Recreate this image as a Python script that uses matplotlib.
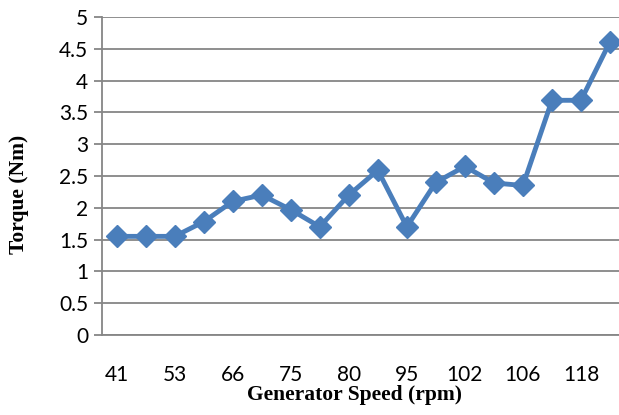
import matplotlib.pyplot as plt

# generator speed (rpm), only every other label is shown on the axis
speed_labels = ["41", "47", "53", "60", "66", "70", "75", "78", "80", "88",
                "95", "98", "102", "104", "106", "112", "118", "122"]
torque = [1.55, 1.55, 1.55, 1.78, 2.10, 2.20, 1.97, 1.70, 2.20, 2.59,
          1.70, 2.40, 2.65, 2.39, 2.35, 3.69, 3.69, 4.61]
y_ticks = [0, 0.5, 1, 1.5, 2, 2.5, 3, 3.5, 4, 4.5, 5]

fig = plt.figure(figsize=(6.19, 4.15), dpi=100)
ax = fig.add_axes([0.165, 0.193, 0.835, 0.766])

x = list(range(len(torque)))
ax.plot(x, torque, color="#4A7EBB", linewidth=3.5, marker="D",
        markersize=11, markerfacecolor="#4A7EBB", markeredgecolor="#4A7EBB",
        zorder=3)

ax.set_xlim(-0.5, 17.31)
ax.set_ylim(0, 5)
ax.set_yticks(y_ticks)
ax.set_yticklabels(["0", "0.5", "1", "1.5", "2", "2.5", "3", "3.5", "4", "4.5", "5"],
                   fontfamily="Lato", fontsize=15)
ax.set_xticks(x[::2])
ax.set_xticklabels(speed_labels[::2], fontfamily="Lato", fontsize=15)
ax.tick_params(axis="x", length=0, pad=22)
ax.tick_params(axis="y", length=6, width=1.3, color="#868686", pad=4)

ax.grid(axis="y", color="#868686", linewidth=1.3)
ax.set_axisbelow(True)
for s in ["top", "right"]:
    ax.spines[s].set_visible(False)
for s in ["left", "bottom"]:
    ax.spines[s].set_color("#868686")
    ax.spines[s].set_linewidth(1.3)

ax.set_xlabel("Generator Speed (rpm)", fontfamily="Liberation Serif",
              fontweight="bold", fontsize=15.5)
ax.set_ylabel("Torque (Nm)", fontfamily="Liberation Serif",
              fontweight="bold", fontsize=15.5)
# place axis titles in axes coords (axes spans x 102..619, y 17..335 px)
ax.xaxis.set_label_coords((354 - 102) / 517, -(385 - 335) / 318)
ax.yaxis.set_label_coords(-(102 - 29) / 517, (335 - 194) / 318)

fig.savefig("out.png", dpi=100)
